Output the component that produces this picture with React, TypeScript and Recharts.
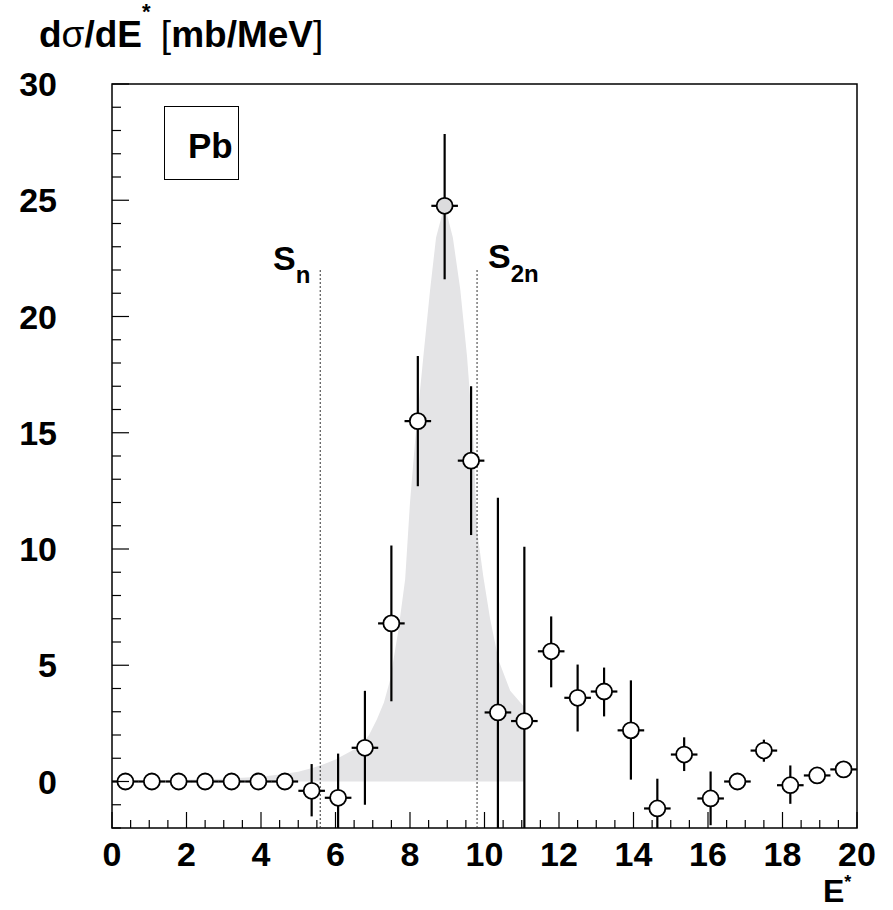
import React from 'react';
import {
  ComposedChart, Area, Scatter, ErrorBar, XAxis, YAxis, ReferenceLine, ReferenceArea,
} from 'recharts';

// bin centres of the measured spectrum (MeV)
const binCenters = [
  0.36, 1.07, 1.79, 2.5, 3.21, 3.93, 4.64, 5.36, 6.07, 6.79, 7.5, 8.21, 8.93, 9.64,
  10.36, 11.07, 11.79, 12.5, 13.21, 13.93, 14.64, 15.36, 16.07, 16.79, 17.5, 18.21, 18.93, 19.64,
];
const binHalfWidth = 0.357;
// measured dσ/dE* (mb/MeV)
const xsec = [
  0, 0, 0, 0, 0, 0, 0, -0.4, -0.7, 1.45, 6.8, 15.5, 24.76, 13.8,
  2.97, 2.6, 5.6, 3.6, 3.87, 2.2, -1.16, 1.16, -0.73, 0.0, 1.33, -0.16, 0.26, 0.52,
];
// upper / lower ends of the error bars
const errTop = [
  0, 0, 0, 0, 0, 0, 0, 0.75, 1.2, 3.9, 10.15, 18.3, 27.85, 17.0,
  12.2, 10.1, 7.1, 5.03, 4.9, 4.35, 0.12, 1.9, 0.43, 0.35, 1.8, 0.69, 0.4, 0.7,
];
const errBottom = [
  0, 0, 0, 0, 0, 0, 0, -1.5, -2, -1.0, 3.45, 12.7, 21.6, 10.6,
  -2, -2, 4.05, 2.15, 2.8, 0.08, -2, 0.45, -1.88, -0.35, 0.85, -0.96, 0.1, 0.38,
];

// calculated (shaded) distribution
const shadeX = [
  0, 1, 2, 3, 4, 4.5, 5.0, 5.4, 5.7, 6.0, 6.3, 6.66, 6.9, 7.11, 7.3, 7.47, 7.69, 7.87, 8.0,
  8.14, 8.36, 8.54, 8.7, 8.93, 9.15, 9.35, 9.53, 9.7, 9.8, 9.97, 10.15, 10.38, 10.69, 11.05, 11.07,
];
const shadeY = [
  0.02, 0.04, 0.07, 0.12, 0.2, 0.3, 0.42, 0.59, 0.75, 0.95, 1.2, 1.52, 2.0, 2.67, 3.4, 4.39, 6.53, 8.7, 12.0,
  14.7, 18.3, 21.15, 23.4, 24.8, 23.4, 21.15, 18.3, 14.7, 10.8, 8.8, 7.0, 5.2, 3.9, 3.24, 0,
];

const xTicks = [
  0, 0.5, 1, 1.5, 2, 2.5, 3, 3.5, 4, 4.5, 5, 5.5, 6, 6.5, 7, 7.5, 8, 8.5, 9, 9.5, 10,
  10.5, 11, 11.5, 12, 12.5, 13, 13.5, 14, 14.5, 15, 15.5, 16, 16.5, 17, 17.5, 18, 18.5, 19, 19.5, 20,
];
const xMajor = [0, 2, 4, 6, 8, 10, 12, 14, 16, 18, 20];
const yTicks = [
  -2, -1, 0, 1, 2, 3, 4, 5, 6, 7, 8, 9, 10, 11, 12, 13, 14, 15, 16,
  17, 18, 19, 20, 21, 22, 23, 24, 25, 26, 27, 28, 29, 30,
];
const yMajor = [0, 5, 10, 15, 20, 25, 30];

const Sn = 5.59;
const S2n = 9.8;
const thresholdTop = 22;

const points = binCenters.map((x, i) => ({
  x,
  y: xsec[i],
  ey: [xsec[i] - errBottom[i], errTop[i] - xsec[i]],
  ex: [binHalfWidth, binHalfWidth],
}));
const shade = shadeX.map((x, i) => ({ x, v: shadeY[i] }));
const peak = Math.max(...xsec);

const FONT = '"Liberation Sans", Arial, Helvetica, sans-serif';

const XTick = (props: any) => {
  const { x, y, payload } = props;
  const major = xMajor.includes(payload.value);
  return (
    <g>
      <line x1={x} x2={x} y1={y} y2={y - (major ? 16 : 8)} stroke="#000" strokeWidth={1.2} />
      {major && (
        <text x={x} y={y + 38} textAnchor="middle" fontFamily={FONT} fontWeight="bold" fontSize={34} fill="#000">
          {payload.value}
        </text>
      )}
    </g>
  );
};

const YTick = (props: any) => {
  const { x, y, payload } = props;
  const major = yMajor.includes(payload.value);
  return (
    <g>
      <line x1={x} x2={x + (major ? 17 : 9)} y1={y} y2={y} stroke="#000" strokeWidth={1.2} />
      {major && (
        <text x={x - 55} y={y + 12} textAnchor="end" fontFamily={FONT} fontWeight="bold" fontSize={34} fill="#000">
          {payload.value}
        </text>
      )}
    </g>
  );
};

const Marker = (props: any) => {
  const { cx, cy, payload } = props;
  const fill = payload.y === peak ? '#dcdcde' : '#fff';
  return <circle cx={cx} cy={cy} r={8} fill={fill} stroke="#000" strokeWidth={1.8} />;
};

export default function App() {
  return (
    <div style={{ position: 'absolute', left: 0, top: 0, width: 893, height: 910, background: '#fff' }}>
      <ComposedChart width={893} height={910} margin={{ top: 84, right: 36, bottom: 0, left: 0 }}>
        <XAxis
          type="number"
          dataKey="x"
          domain={[0, 20]}
          ticks={xTicks}
          interval={0}
          allowDataOverflow
          axisLine={false}
          tickLine={false}
          tickSize={0}
          tickMargin={0}
          height={82}
          tick={<XTick />}
        />
        <YAxis
          type="number"
          domain={[-2, 30]}
          ticks={yTicks}
          interval={0}
          allowDataOverflow
          axisLine={false}
          tickLine={false}
          tickSize={0}
          tickMargin={0}
          width={112}
          tick={<YTick />}
        />
        <Area
          data={shade}
          dataKey="v"
          type="linear"
          baseValue={0}
          fill="#e4e4e6"
          fillOpacity={1}
          stroke="none"
          isAnimationActive={false}
          dot={false}
          activeDot={false}
        />
        <ReferenceLine
          segment={[{ x: Sn, y: thresholdTop }, { x: Sn, y: -2 }]}
          stroke="#333"
          strokeWidth={1}
          strokeDasharray="2 2"
        />
        <ReferenceLine
          segment={[{ x: S2n, y: thresholdTop }, { x: S2n, y: -2 }]}
          stroke="#333"
          strokeWidth={1}
          strokeDasharray="2 2"
        />
        <Scatter data={points} dataKey="y" shape={<Marker />} isAnimationActive={false}>
          <ErrorBar dataKey="ey" direction="y" width={0} stroke="#000" strokeWidth={2.2} />
          <ErrorBar dataKey="ex" direction="x" width={0} stroke="#000" strokeWidth={2.2} />
        </Scatter>
        <ReferenceArea x1={0} x2={20} y1={-2} y2={30} fill="none" stroke="#000" strokeWidth={1.5} />
      </ComposedChart>
      <svg
        width={893}
        height={910}
        style={{ position: 'absolute', left: 0, top: 0, pointerEvents: 'none' }}
        fontFamily={FONT}
      >
        <text x={39} y={47} fontSize={37} fontWeight="bold" fill="#000">
          <tspan>d</tspan>
          <tspan fontWeight="normal">σ</tspan>
          <tspan>/dE</tspan>
          <tspan dy={-28} fontSize={22}>*</tspan>
          <tspan dy={28} fontWeight="normal"> [</tspan>
          <tspan>mb/MeV</tspan>
          <tspan fontWeight="normal">]</tspan>
        </text>
        <rect x={164.5} y={106.5} width={74} height={73} fill="#fff" stroke="#000" strokeWidth={1} />
        <text x={188} y={158} fontSize={35} fontWeight="bold" fill="#000">Pb</text>
        <text x={273} y={270} fontSize={34} fontWeight="bold" fill="#000">
          S<tspan fontSize={24} dy={13}>n</tspan>
        </text>
        <text x={488} y={268} fontSize={34} fontWeight="bold" fill="#000">
          S<tspan fontSize={24} dy={14}>2n</tspan>
        </text>
        <text x={823} y={902} fontSize={32} fontWeight="bold" fill="#000">
          E<tspan fontSize={18} dy={-14}>*</tspan>
        </text>
      </svg>
    </div>
  );
}
